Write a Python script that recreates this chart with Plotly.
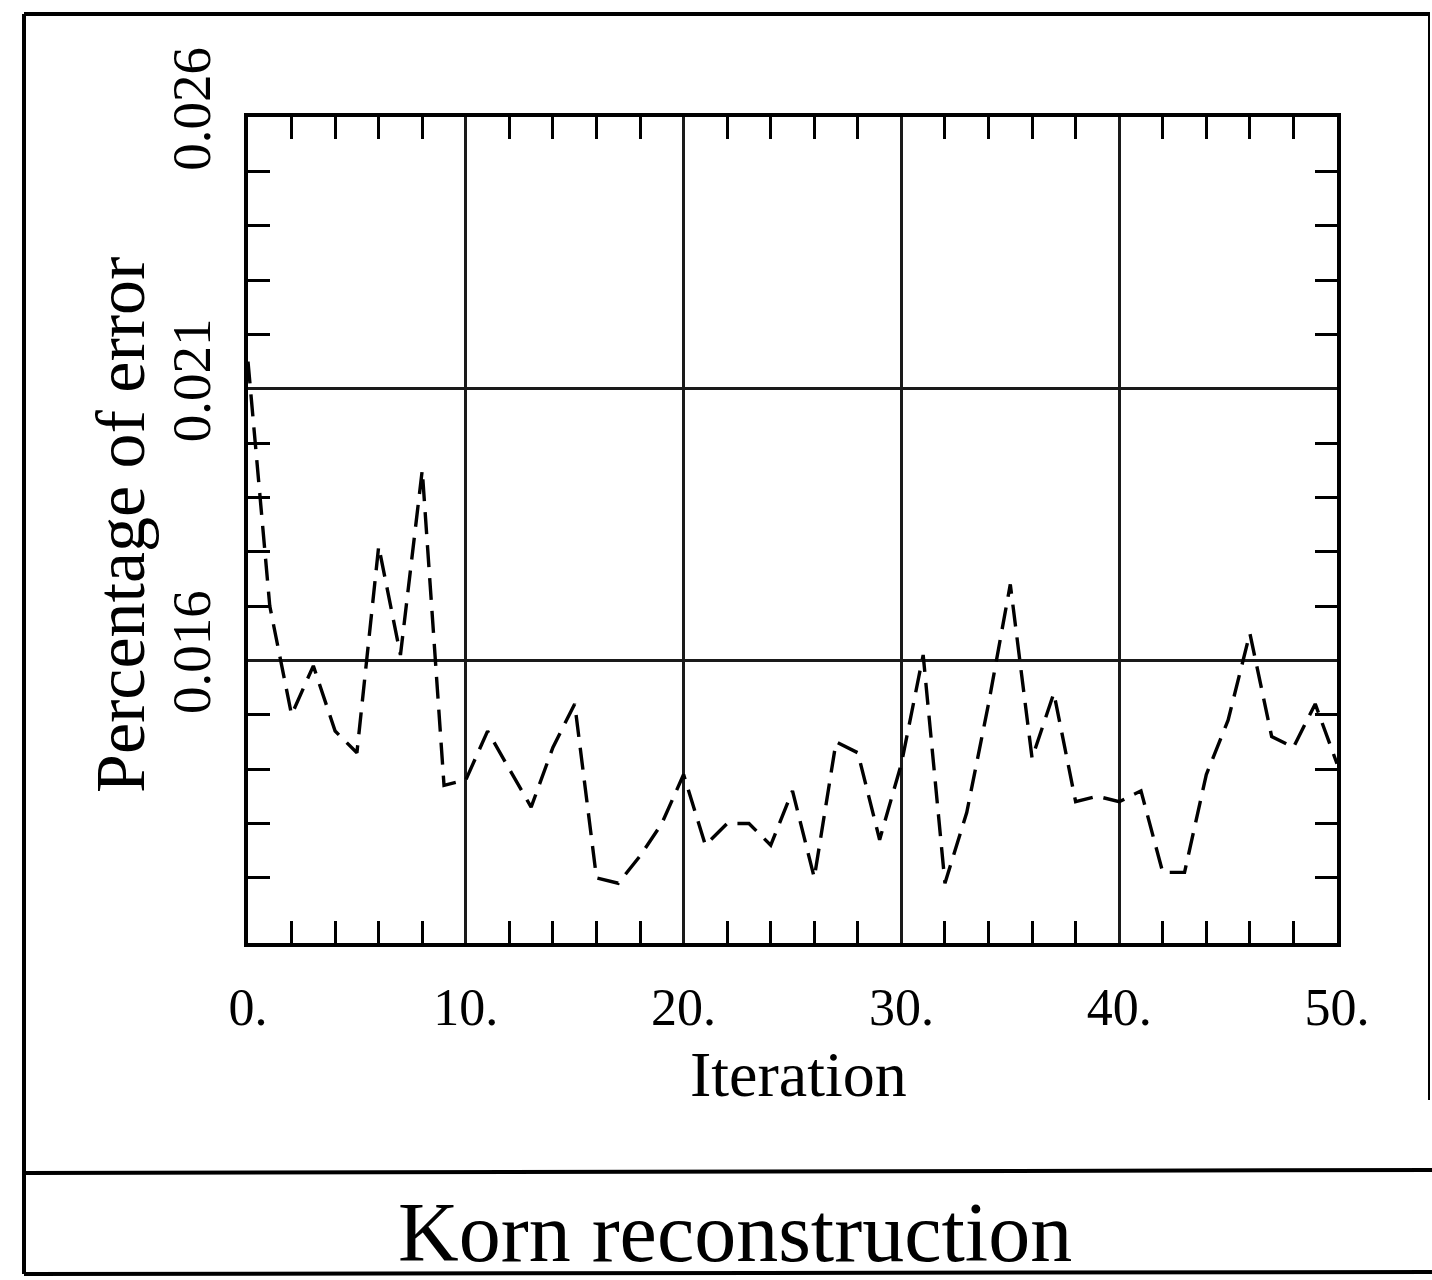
import plotly.graph_objects as go

# ---- data ----
iteration = list(range(0, 51))
error_pct = [
    0.0215, 0.0170, 0.0150, 0.0159, 0.0147, 0.0143, 0.0181, 0.0161, 0.0195, 0.0137,
    0.0138, 0.0147, 0.0140, 0.0133, 0.0144, 0.0152, 0.0120, 0.0119, 0.0124, 0.0130,
    0.0139, 0.0126, 0.0130, 0.0130, 0.0126, 0.0136, 0.0120, 0.0145, 0.0143, 0.0127,
    0.0141, 0.0161, 0.0119, 0.0132, 0.0152, 0.0174, 0.0142, 0.0154, 0.0134, 0.0135,
    0.0134, 0.0136, 0.0121, 0.0121, 0.0139, 0.0149, 0.0165, 0.0146, 0.0144, 0.0152,
    0.0141,
]
x_tickvals = [0, 10, 20, 30, 40, 50]
x_ticktext = ["0.", "10.", "20.", "30.", "40.", "50."]
x_minor_ticks = [2, 4, 6, 8, 12, 14, 16, 18, 22, 24, 26, 28, 32, 34, 36, 38, 42, 44, 46, 48]
y_tickvals = [0.016, 0.021, 0.026]
y_ticktext = ["0.016", "0.021", "0.026"]
y_minor_ticks = [0.012, 0.013, 0.014, 0.015, 0.017, 0.018, 0.019, 0.020,
                 0.022, 0.023, 0.024, 0.025]

# ---- layout geometry (pixels) ----
W, H = 1432, 1280
L, R, T, B = 248, 1337, 117, 943

def px(x):
    return (x - L) / (R - L)

def py(y):
    return (B - y) / (B - T)

FONT = "Liberation Serif, Times New Roman, serif"

fig = go.Figure()
fig.add_trace(go.Scatter(
    x=iteration, y=error_pct, mode="lines",
    line=dict(color="black", width=3.4, dash="22px,11px"),
    showlegend=False,
))

axis_common = dict(
    showline=True, linecolor="black", linewidth=4, mirror="ticks",
    showgrid=True, gridcolor="#1a1a1a", gridwidth=2.5,
    zeroline=False, ticks="",
)

fig.update_xaxes(
    range=[0, 50], tickmode="array", tickvals=x_tickvals, ticktext=x_ticktext,
    minor=dict(tickmode="array", tickvals=x_minor_ticks, ticks="inside", ticklen=22,
               tickwidth=3, tickcolor="black", showgrid=False),
    ticklabelstandoff=16,
    tickfont=dict(family=FONT, size=52, color="black"),
    **axis_common,
)
fig.update_yaxes(
    range=[0.0108, 0.026], tickmode="array", tickvals=y_tickvals, ticktext=y_ticktext,
    tickangle=-90,
    minor=dict(tickmode="array", tickvals=y_minor_ticks, ticks="inside", ticklen=22,
               tickwidth=3, tickcolor="black", showgrid=False),
    ticklabelstandoff=12,
    tickfont=dict(family=FONT, size=55, color="black"),
    **axis_common,
)

shapes = [
    # outer frame
    dict(type="line", xref="paper", yref="paper", x0=px(24), x1=px(1430), y0=py(14), y1=py(14),
         line=dict(color="black", width=4)),
    dict(type="line", xref="paper", yref="paper", x0=px(24), x1=px(24), y0=py(14), y1=py(1274),
         line=dict(color="black", width=4)),
    dict(type="line", xref="paper", yref="paper", x0=px(1429), x1=px(1429), y0=py(14), y1=py(1100),
         line=dict(color="black", width=2)),
    dict(type="line", xref="paper", yref="paper", x0=px(24), x1=px(1432), y0=py(1173), y1=py(1170),
         line=dict(color="black", width=4)),
    dict(type="line", xref="paper", yref="paper", x0=px(24), x1=px(1432), y0=py(1274), y1=py(1272),
         line=dict(color="black", width=4)),
]

annotations = [
    dict(text="Percentage of error", xref="paper", yref="paper", x=px(120), y=py(525),
         showarrow=False, textangle=-90, font=dict(family=FONT, size=70, color="black"),
         xanchor="center", yanchor="middle"),
    dict(text="Iteration", xref="paper", yref="paper", x=px(798), y=py(1074),
         showarrow=False, font=dict(family=FONT, size=64, color="black"),
         xanchor="center", yanchor="middle"),
    dict(text="Korn reconstruction", xref="paper", yref="paper", x=px(735), y=py(1232),
         showarrow=False, font=dict(family=FONT, size=84, color="black"),
         xanchor="center", yanchor="middle"),
]

fig.update_layout(
    width=W, height=H,
    margin=dict(l=L, r=W - R, t=T, b=H - B, pad=0),
    paper_bgcolor="white", plot_bgcolor="white",
    shapes=shapes, annotations=annotations,
    font=dict(family=FONT, color="black"),
)

fig.write_html("out.html")
